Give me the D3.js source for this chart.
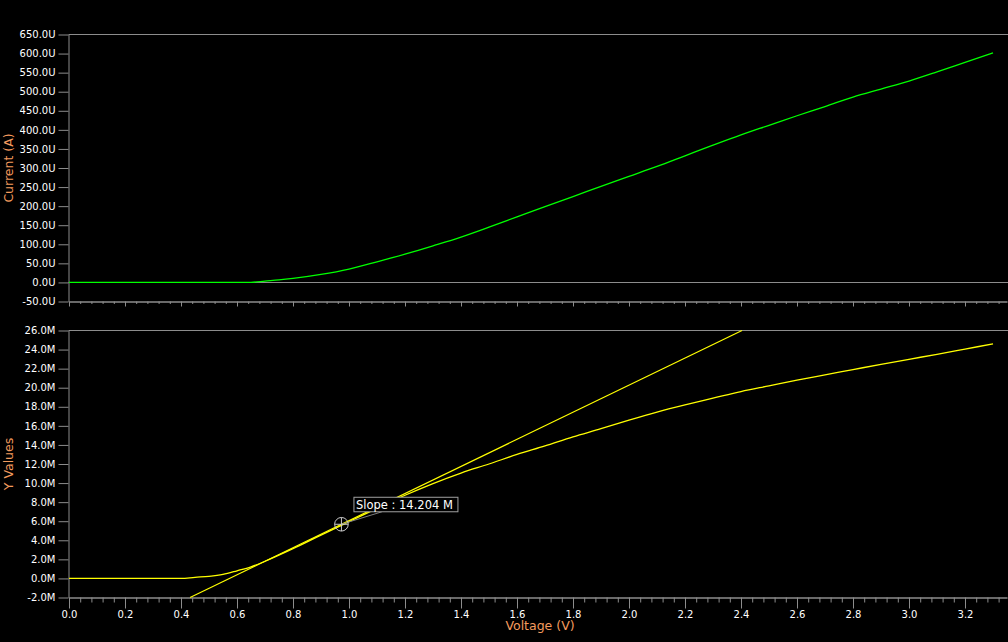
<!DOCTYPE html>
<html>
<head>
<meta charset="utf-8">
<script src="https://cdn.jsdelivr.net/npm/d3@7"></script>
<style>
  html, body { margin: 0; padding: 0; background: #000; }
  svg { display: block; }
  .tick text { fill: #fff; font-family: "DejaVu Sans", sans-serif; font-size: 10px; }
  .tick line, .domain { stroke: #8c8c8c; }
  .title { fill: #f49b5e; font-family: "DejaVu Sans", sans-serif; font-size: 12.5px; }
</style>
</head>
<body>
<div id="chart"></div>
<script>
let width = 1008,
    height = 642;

// top panel: drain current vs voltage (uA)
const currentV = [0, 0.1, 0.2, 0.3, 0.4, 0.5, 0.6, 0.65, 0.7, 0.75, 0.8, 0.9, 1.0, 1.1, 1.2, 1.3, 1.4, 1.5,
                  1.6, 1.7, 1.8, 1.9, 2.0, 2.1, 2.2, 2.3, 2.4, 2.5, 2.6, 2.7, 2.8, 2.9, 3.0, 3.1, 3.2, 3.3];
const currentU = [0, 0, 0, 0, 0, 0, 0, 0.3, 3.5, 6.5, 10.5, 21, 35, 54, 74, 96, 119, 145,
                  172, 199, 225, 252, 278, 304, 332, 360, 387, 412, 437, 461, 486, 507, 528, 552, 577, 602];

// bottom panel: Y values (M)
const yValV = [0, 0.1, 0.2, 0.3, 0.4, 0.45, 0.5, 0.55, 0.6, 0.65, 0.7, 0.8, 0.9, 1.0, 1.1, 1.2, 1.3, 1.4, 1.5,
               1.6, 1.7, 1.8, 1.9, 2.0, 2.1, 2.2, 2.3, 2.4, 2.5, 2.6, 2.7, 2.8, 2.9, 3.0, 3.1, 3.2, 3.3];
const yValM = [0, 0, 0, 0, 0, 0.12, 0.22, 0.42, 0.8, 1.22, 1.8, 3.12, 4.55, 5.95, 7.35, 8.72, 9.95, 11.05, 12.0,
               13.0, 13.9, 14.85, 15.7, 16.6, 17.45, 18.2, 18.9, 19.6, 20.2, 20.8, 21.35, 21.9, 22.45, 22.98, 23.5, 24.05, 24.6];

// slope marker
const slopeValue = 14.204;
const markerPoint = [0.973, 5.68];

const xTicksMajor = [0, 0.2, 0.4, 0.6, 0.8, 1.0, 1.2, 1.4, 1.6, 1.8, 2.0, 2.2, 2.4, 2.6, 2.8, 3.0, 3.2];
const topTicks = [-50, 0, 50, 100, 150, 200, 250, 300, 350, 400, 450, 500, 550, 600, 650];
const botTicks = [-2, 0, 2, 4, 6, 8, 10, 12, 14, 16, 18, 20, 22, 24, 26];

const svg = d3.select("#chart")
      .append("svg")
      .attr("width", width)
      .attr("height", height);

const left = 68.5;

const x = d3.scaleLinear().domain([0, 3.35]).range([69, 1007]);
const yTop = d3.scaleLinear().domain([-50, 650]).range([301.5, 34.5]);
const yBot = d3.scaleLinear().domain([-2, 26]).range([597.5, 330.5]);

const minor = d3.range(0, 3.35, 0.04).filter(v => Math.abs(v / 0.2 - Math.round(v / 0.2)) > 0.01);

function panel(y, ticks, fmt, bottomTick, minorTick, labels, yTitle, zeroLine) {
  const g = svg.append("g");

  // top border and zero line
  g.append("line")
    .attr("x1", left).attr("x2", width)
    .attr("y1", y.range()[1]).attr("y2", y.range()[1])
    .attr("stroke", "#8c8c8c");
  if (zeroLine) {
    g.append("line")
      .attr("x1", left).attr("x2", width)
      .attr("y1", Math.round(y(0)) + 0.5).attr("y2", Math.round(y(0)) + 0.5)
      .attr("stroke", "#8c8c8c");
  }

  g.append("g")
    .attr("transform", "translate(" + left + ",0)")
    .call(d3.axisLeft(y).tickValues(ticks).tickSize(10).tickSizeOuter(0).tickPadding(3).tickFormat(fmt));

  const base = y.range()[0];
  g.append("g")
    .attr("transform", "translate(0," + base + ")")
    .call(d3.axisBottom(x).tickValues(minor).tickSize(minorTick).tickSizeOuter(0).tickFormat(""))
    .select(".domain").attr("stroke-width", 1.5);
  g.append("g")
    .attr("transform", "translate(0," + base + ")")
    .call(d3.axisBottom(x).tickValues(xTicksMajor).tickSize(bottomTick).tickSizeOuter(0).tickPadding(2)
      .tickFormat(labels ? d => d.toFixed(1) : ""))
    .select(".domain").remove();

  const mid = (y.range()[0] + y.range()[1]) / 2;
  g.append("text")
    .attr("class", "title")
    .attr("transform", "translate(13," + mid + ") rotate(-90)")
    .attr("text-anchor", "middle")
    .text(yTitle);
  return g;
}

panel(yTop, topTicks, d => d.toFixed(1) + "U", 5, 2.5, false, "Current (A)", true);
panel(yBot, botTicks, d => d.toFixed(1) + "M", 11, 5, true, "Y Values", false);

svg.append("text")
  .attr("class", "title")
  .attr("x", 540).attr("y", 630)
  .attr("text-anchor", "middle")
  .text("Voltage (V)");

// green current curve
svg.append("path")
  .datum(currentV.map((v, i) => [v, currentU[i]]))
  .attr("fill", "none")
  .attr("stroke", "#00ff00")
  .attr("stroke-width", 1.3)
  .attr("d", d3.line().x(d => x(d[0])).y(d => yTop(d[1])).curve(d3.curveMonotoneX));

// tangent line through marker, clipped to -2M..26M
const v0 = markerPoint[0] - (markerPoint[1] + 2) / slopeValue;
const v1 = markerPoint[0] + (26 - markerPoint[1]) / slopeValue;
svg.append("line")
  .attr("x1", x(v0)).attr("y1", yBot(-2))
  .attr("x2", x(v1)).attr("y2", yBot(26))
  .attr("stroke", "#ffff00")
  .attr("stroke-width", 1.2);

// yellow curve
svg.append("path")
  .datum(yValV.map((v, i) => [v, yValM[i]]))
  .attr("fill", "none")
  .attr("stroke", "#ffff00")
  .attr("stroke-width", 1.3)
  .attr("d", d3.line().x(d => x(d[0])).y(d => yBot(d[1])).curve(d3.curveMonotoneX));

// marker + label
const mx = x(markerPoint[0]), my = yBot(markerPoint[1]);
const bx = mx + 12.5, by = my - 27;

svg.append("line")
  .attr("x1", mx).attr("y1", my)
  .attr("x2", bx + 28).attr("y2", by + 14.5)
  .attr("stroke", "#808080");

const mk = svg.append("g").attr("stroke", "#c8c8c8").attr("fill", "none");
mk.append("circle").attr("cx", mx).attr("cy", my).attr("r", 6.8);
mk.append("line").attr("x1", mx - 6.8).attr("x2", mx + 6.8).attr("y1", my).attr("y2", my);
mk.append("line").attr("x1", mx).attr("x2", mx).attr("y1", my - 6.8).attr("y2", my + 6.8);

svg.append("rect")
  .attr("x", bx).attr("y", by)
  .attr("width", 104).attr("height", 14.5)
  .attr("fill", "#000")
  .attr("stroke", "#a0a0a0");
svg.append("text")
  .attr("x", bx + 2).attr("y", by + 11.5)
  .attr("fill", "#fff")
  .style("font-family", "DejaVu Sans, sans-serif")
  .style("font-size", "11.5px")
  .text("Slope : " + slopeValue.toFixed(3) + " M");
</script>
</body>
</html>
